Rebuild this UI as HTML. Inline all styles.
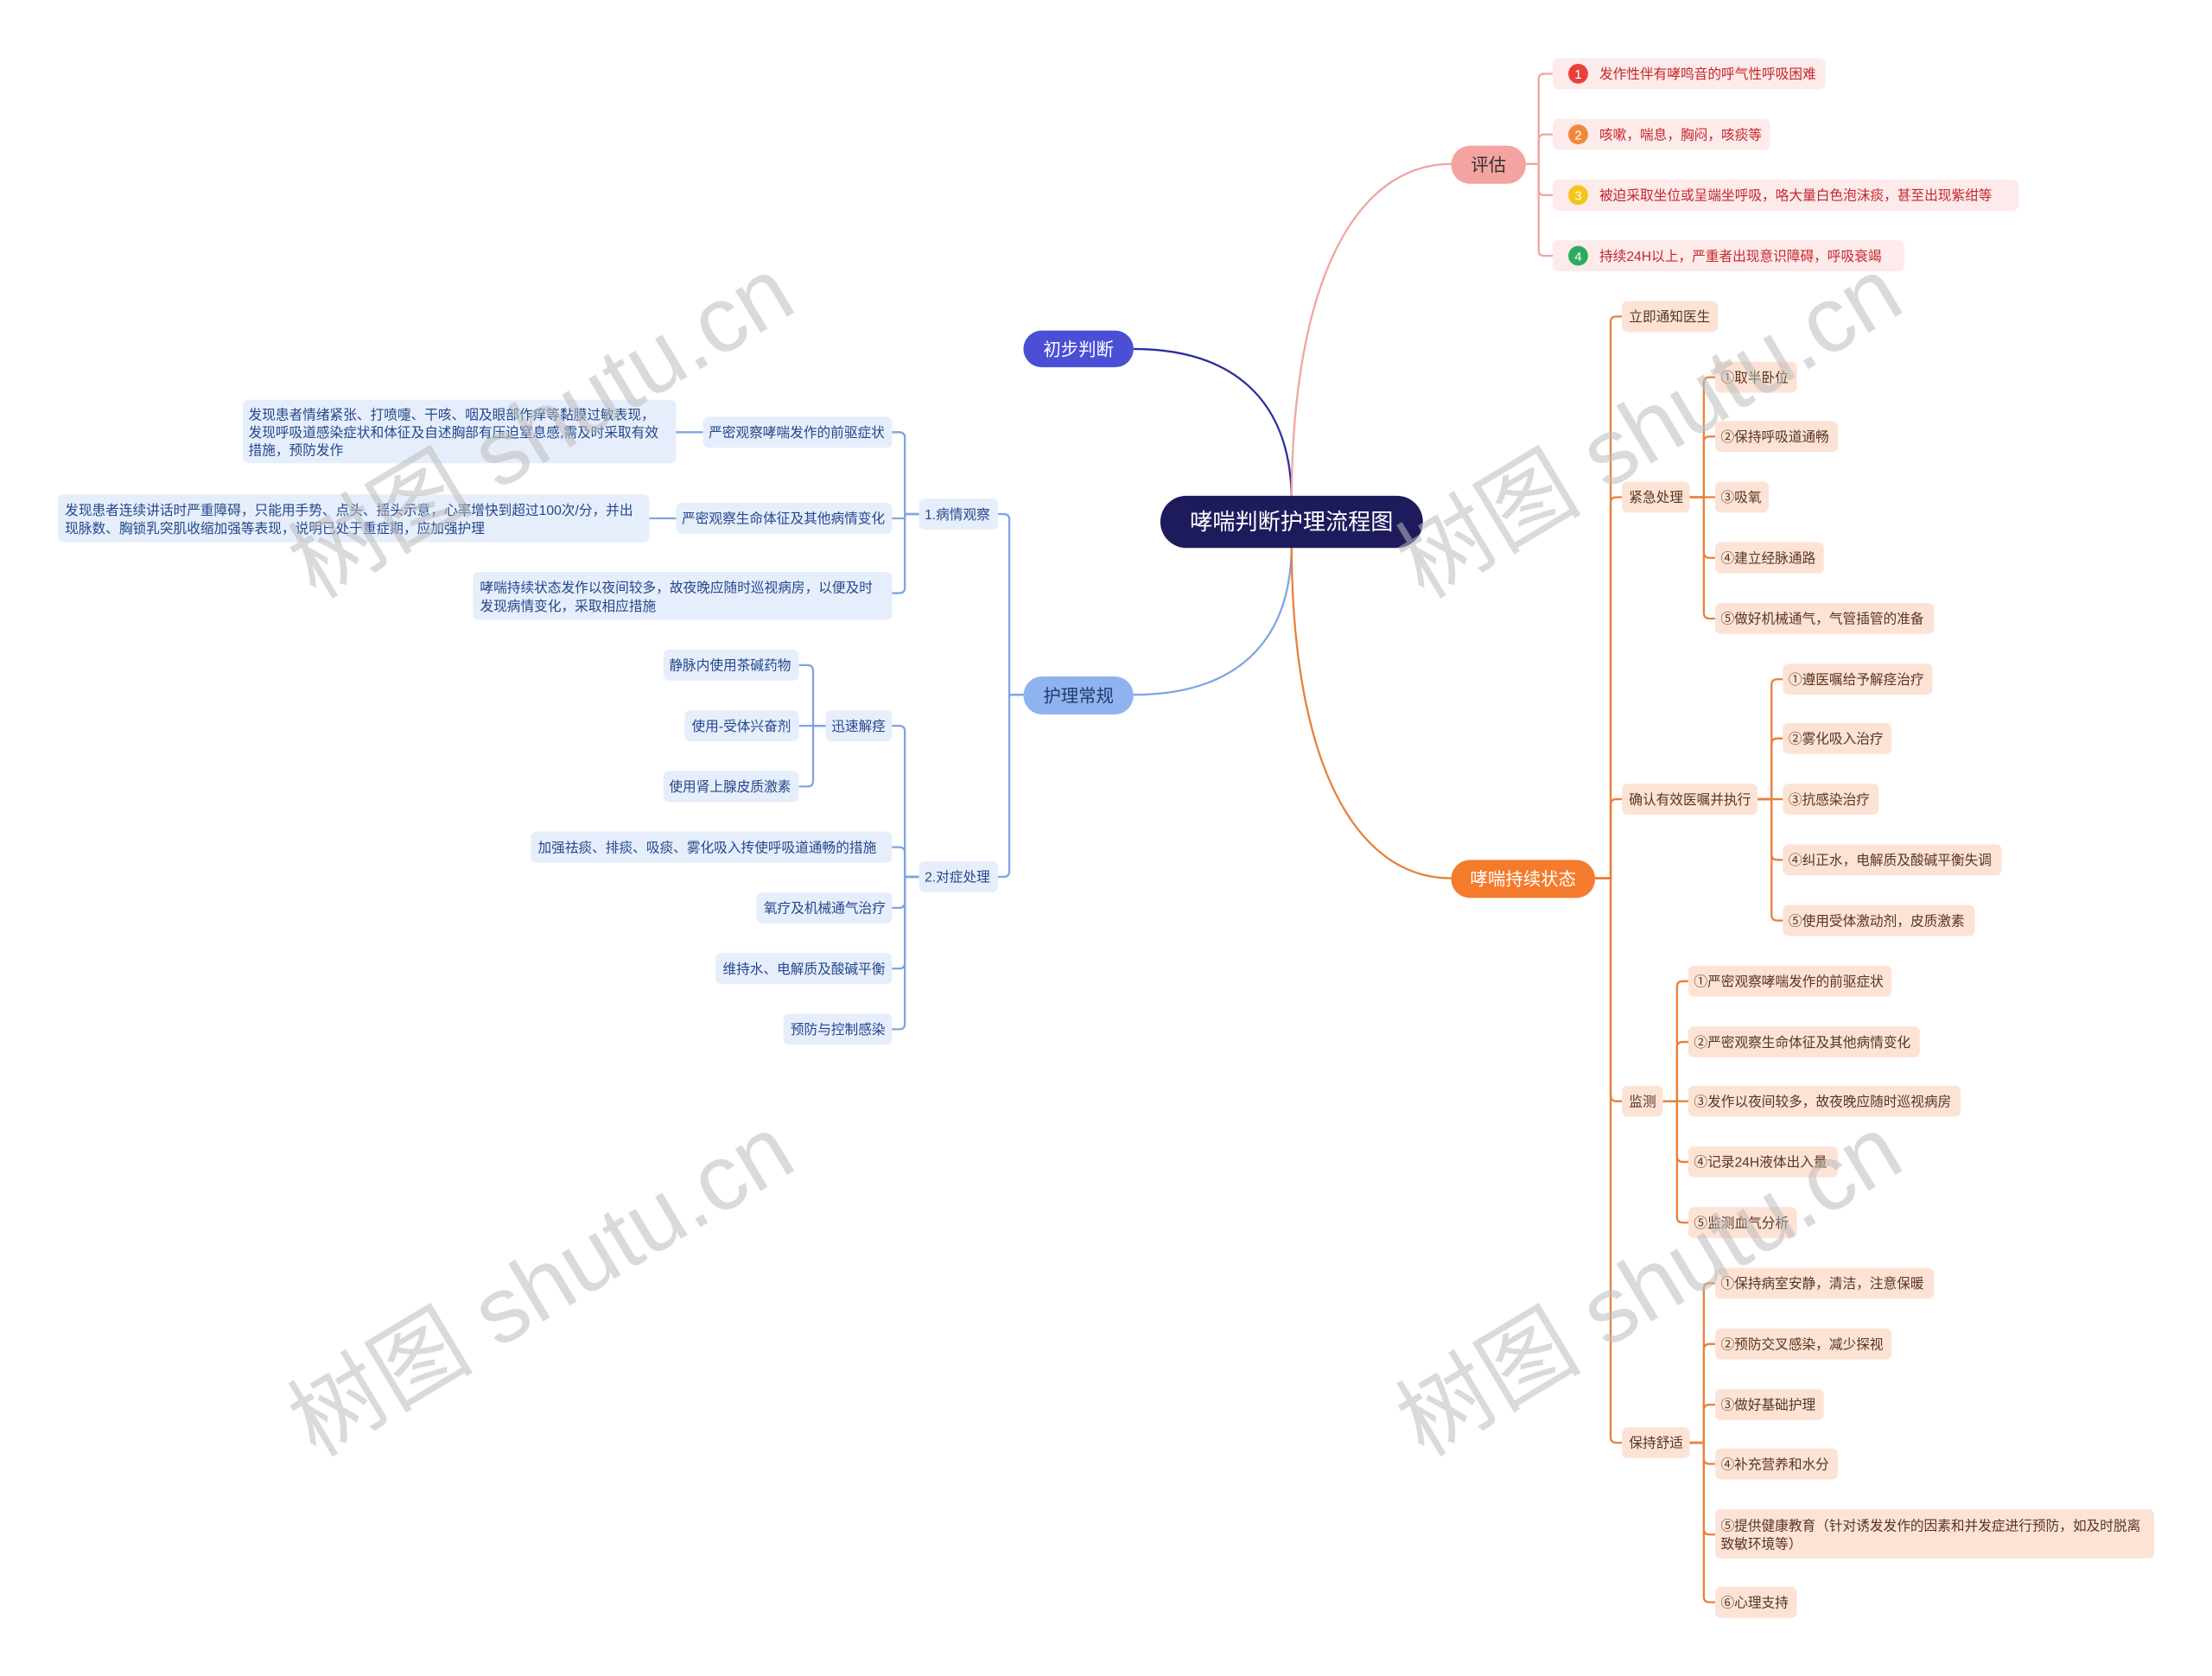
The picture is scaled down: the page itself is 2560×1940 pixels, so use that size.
<!DOCTYPE html>
<html><head><meta charset="utf-8"><style>
html,body{margin:0;padding:0;background:#fff;width:2560px;height:1940px;overflow:hidden}
svg{display:block}
text{font-family:"Liberation Sans","Noto Sans CJK SC",sans-serif}
.r text{fill:#c3272b;font-size:9.6px}
.o text{fill:#5a3420;font-size:9.6px}
.b text{fill:#24478a;font-size:9.6px}
</style></head><body>
<svg width="2560" height="1940" viewBox="0 0 1567 1187" xmlns="http://www.w3.org/2000/svg">
<g fill="none" stroke-width="1.4">
<path d="M915,355 C915,280 870,247 803,247" stroke="#2d2f9e"/>
<path d="M915,385 C915,460 870,492 803,492" stroke="#7fa5e0"/>
<path d="M915,355 C915,200 960,116 1028,116" stroke="#f0a5a0"/>
<path d="M915,385 C915,540 960,622 1028,622" stroke="#e8803a"/>
<g stroke="#f0a5a0">
<path d="M1081,116H1090V56Q1090,52 1094,52H1100"/><path d="M1081,116H1090V99Q1090,95 1094,95H1100"/>
<path d="M1081,116H1090V134Q1090,138 1094,138H1100"/><path d="M1081,116H1090V177Q1090,181 1094,181H1100"/>
</g>
<g stroke="#e8803a">
<path d="M1130,622H1141V228Q1141,224 1145,224H1149"/><path d="M1130,622H1141V356Q1141,352 1145,352H1149"/>
<path d="M1130,622H1141V570Q1141,566 1145,566H1149"/><path d="M1130,622H1141V776Q1141,780 1145,780H1149"/>
<path d="M1130,622H1141V1018Q1141,1022 1145,1022H1149"/>
<path d="M1197,352H1207V271Q1207,267 1211,267H1215"/><path d="M1197,352H1207V313Q1207,309 1211,309H1215"/>
<path d="M1197,352H1215"/><path d="M1197,352H1207V391Q1207,395 1211,395H1215"/><path d="M1197,352H1207V434Q1207,438 1211,438H1215"/>
<path d="M1245,566H1255V485Q1255,481 1259,481H1263"/><path d="M1245,566H1255V527Q1255,523 1259,523H1263"/>
<path d="M1245,566H1263"/><path d="M1245,566H1255V605Q1255,609 1259,609H1263"/><path d="M1245,566H1255V648Q1255,652 1259,652H1263"/>
<path d="M1178,780H1188V699Q1188,695 1192,695H1196"/><path d="M1178,780H1188V742Q1188,738 1192,738H1196"/>
<path d="M1178,780H1196"/><path d="M1178,780H1188V819Q1188,823 1192,823H1196"/><path d="M1178,780H1188V862Q1188,866 1192,866H1196"/>
<path d="M1197,1022H1207V913Q1207,909 1211,909H1215"/><path d="M1197,1022H1207V956Q1207,952 1211,952H1215"/>
<path d="M1197,1022H1207V999Q1207,995 1211,995H1215"/><path d="M1197,1022H1207V1033Q1207,1037 1211,1037H1215"/>
<path d="M1197,1022H1207V1083Q1207,1087 1211,1087H1215"/><path d="M1197,1022H1207V1131Q1207,1135 1211,1135H1215"/>
</g>
<g stroke="#7fa5e0">
<path d="M725,492H715V368Q715,364 711,364H707"/><path d="M725,492H715V617Q715,621 711,621H707"/>
<path d="M651,364H641V310Q641,306 637,306H632"/><path d="M651,364H641V367H632"/><path d="M651,364H641V416Q641,420 637,420H632"/>
<path d="M651,621H641V518Q641,514 637,514H632"/><path d="M651,621H641V604Q641,600 637,600H632"/>
<path d="M651,621H641V639Q641,643 637,643H632"/><path d="M651,621H641V682Q641,686 637,686H632"/><path d="M651,621H641V725Q641,729 637,729H632"/>
<path d="M585,514H576V475Q576,471 572,471H566"/><path d="M585,514H566"/><path d="M585,514H576V553Q576,557 572,557H566"/>
<path d="M498,306H479"/><path d="M479,367H460"/>
</g>
</g>
<rect x="822" y="351" width="186" height="37" rx="18.5" fill="#1e1b5c"/>
<text x="915" y="375" font-size="16" fill="#fff" text-anchor="middle">哮喘判断护理流程图</text>
<rect x="725" y="234" width="78" height="26" rx="13" fill="#4a4fd6"/>
<text x="764" y="251.5" font-size="12.5" fill="#fff" text-anchor="middle">初步判断</text>
<rect x="725" y="479" width="78" height="27" rx="13.5" fill="#8fb3ee"/>
<text x="764" y="497" font-size="12.5" fill="#1e3a6e" text-anchor="middle">护理常规</text>
<rect x="1028" y="103" width="53" height="27" rx="13.5" fill="#f5a3a0"/>
<text x="1054.5" y="121" font-size="12.5" fill="#333" text-anchor="middle">评估</text>
<rect x="1028" y="609" width="102" height="27" rx="13.5" fill="#f47b2c"/>
<text x="1079" y="627" font-size="12.5" fill="#fff" text-anchor="middle">哮喘持续状态</text>
<g class="r">
<rect x="1100" y="41" width="193" height="22" rx="4" fill="#fdeaea"/><circle cx="1118" cy="52" r="7" fill="#e8413c"/><text x="1118" y="55.5" text-anchor="middle" style="fill:#fff;font-size:9px">1</text><text x="1133" y="55.5">发作性伴有哮鸣音的呼气性呼吸困难</text>
<rect x="1100" y="84" width="154" height="22" rx="4" fill="#fdeaea"/><circle cx="1118" cy="95" r="7" fill="#f08a3a"/><text x="1118" y="98.5" text-anchor="middle" style="fill:#fff;font-size:9px">2</text><text x="1133" y="98.5">咳嗽，喘息，胸闷，咳痰等</text>
<rect x="1100" y="127" width="330" height="22" rx="4" fill="#fdeaea"/><circle cx="1118" cy="138" r="7" fill="#f5c518"/><text x="1118" y="141.5" text-anchor="middle" style="fill:#fff;font-size:9px">3</text><text x="1133" y="141.5">被迫采取坐位或呈端坐呼吸，咯大量白色泡沫痰，甚至出现紫绀等</text>
<rect x="1100" y="170" width="249" height="22" rx="4" fill="#fdeaea"/><circle cx="1118" cy="181" r="7" fill="#2faa5c"/><text x="1118" y="184.5" text-anchor="middle" style="fill:#fff;font-size:9px">4</text><text x="1133" y="184.5">持续24H以上，严重者出现意识障碍，呼吸衰竭</text>
</g>
<g class="o" fill="#fde3d5">
<rect x="1149" y="213" width="68" height="22" rx="4"/><text x="1154" y="227.5">立即通知医生</text>
<rect x="1149" y="341" width="48" height="22" rx="4"/><text x="1154" y="355.5">紧急处理</text>
<rect x="1149" y="555" width="96" height="22" rx="4"/><text x="1154" y="569.5">确认有效医嘱并执行</text>
<rect x="1149" y="769" width="29" height="22" rx="4"/><text x="1154" y="783.5">监测</text>
<rect x="1149" y="1011" width="48" height="22" rx="4"/><text x="1154" y="1025.5">保持舒适</text>
<rect x="1215" y="256" width="58" height="22" rx="4"/><text x="1219" y="270.5">①取半卧位</text>
<rect x="1215" y="298" width="87" height="22" rx="4"/><text x="1219" y="312.5">②保持呼吸道通畅</text>
<rect x="1215" y="341" width="38" height="22" rx="4"/><text x="1219" y="355.5">③吸氧</text>
<rect x="1215" y="384" width="77" height="22" rx="4"/><text x="1219" y="398.5">④建立经脉通路</text>
<rect x="1215" y="427" width="155" height="22" rx="4"/><text x="1219" y="441.5">⑤做好机械通气，气管插管的准备</text>
<rect x="1263" y="470" width="106" height="22" rx="4"/><text x="1267" y="484.5">①遵医嘱给予解痉治疗</text>
<rect x="1263" y="512" width="77" height="22" rx="4"/><text x="1267" y="526.5">②雾化吸入治疗</text>
<rect x="1263" y="555" width="68" height="22" rx="4"/><text x="1267" y="569.5">③抗感染治疗</text>
<rect x="1263" y="598" width="155" height="22" rx="4"/><text x="1267" y="612.5">④纠正水，电解质及酸碱平衡失调</text>
<rect x="1263" y="641" width="136" height="22" rx="4"/><text x="1267" y="655.5">⑤使用受体激动剂，皮质激素</text>
<rect x="1196" y="684" width="144" height="22" rx="4"/><text x="1200" y="698.5">①严密观察哮喘发作的前驱症状</text>
<rect x="1196" y="727" width="164" height="22" rx="4"/><text x="1200" y="741.5">②严密观察生命体征及其他病情变化</text>
<rect x="1196" y="769" width="193" height="22" rx="4"/><text x="1200" y="783.5">③发作以夜间较多，故夜晚应随时巡视病房</text>
<rect x="1196" y="812" width="106" height="22" rx="4"/><text x="1200" y="826.5">④记录24H液体出入量</text>
<rect x="1196" y="855" width="77" height="22" rx="4"/><text x="1200" y="869.5">⑤监测血气分析</text>
<rect x="1215" y="898" width="155" height="22" rx="4"/><text x="1219" y="912.5">①保持病室安静，清洁，注意保暖</text>
<rect x="1215" y="941" width="125" height="22" rx="4"/><text x="1219" y="955.5">②预防交叉感染，减少探视</text>
<rect x="1215" y="984" width="77" height="22" rx="4"/><text x="1219" y="998.5">③做好基础护理</text>
<rect x="1215" y="1026" width="87" height="22" rx="4"/><text x="1219" y="1040.5">④补充营养和水分</text>
<rect x="1215" y="1069" width="311" height="35" rx="4"/><text x="1219" y="1084">⑤提供健康教育（针对诱发发作的因素和并发症进行预防，如及时脱离</text><text x="1219" y="1097">致敏环境等）</text>
<rect x="1215" y="1124" width="58" height="22" rx="4"/><text x="1219" y="1138.5">⑥心理支持</text>
</g>
<g class="b" fill="#e6eefc">
<rect x="651" y="353" width="56" height="22" rx="4"/><text x="655" y="367.5">1.病情观察</text>
<rect x="651" y="610" width="56" height="22" rx="4"/><text x="655" y="624.5">2.对症处理</text>
<rect x="498" y="295" width="134" height="22" rx="4"/><text x="502" y="309.5">严密观察哮喘发作的前驱症状</text>
<rect x="479" y="356" width="153" height="22" rx="4"/><text x="483" y="370.5">严密观察生命体征及其他病情变化</text>
<rect x="335" y="405" width="297" height="34" rx="4"/><text x="340" y="419.5">哮喘持续状态发作以夜间较多，故夜晚应随时巡视病房，以便及时</text><text x="340" y="432.5">发现病情变化，采取相应措施</text>
<rect x="172" y="283" width="307" height="45" rx="4"/><text x="176" y="297">发现患者情绪紧张、打喷嚏、干咳、咽及眼部作痒等黏膜过敏表现，</text><text x="176" y="309.5">发现呼吸道感染症状和体征及自述胸部有压迫窒息感,需及时采取有效</text><text x="176" y="322">措施，预防发作</text>
<rect x="41" y="350" width="419" height="34" rx="4"/><text x="46" y="364.5">发现患者连续讲话时严重障碍，只能用手势、点头、摇头示意，心率增快到超过100次/分，并出</text><text x="46" y="377.5">现脉数、胸锁乳突肌收缩加强等表现，说明已处于重症期，应加强护理</text>
<rect x="585" y="503" width="47" height="22" rx="4"/><text x="589" y="517.5">迅速解痉</text>
<rect x="470" y="460" width="96" height="22" rx="4"/><text x="474" y="474.5">静脉内使用茶碱药物</text>
<rect x="485" y="503" width="81" height="22" rx="4"/><text x="490" y="517.5">使用-受体兴奋剂</text>
<rect x="470" y="546" width="96" height="22" rx="4"/><text x="474" y="560.5">使用肾上腺皮质激素</text>
<rect x="376" y="589" width="256" height="22" rx="4"/><text x="381" y="603.5">加强祛痰、排痰、吸痰、雾化吸入抟使呼吸道通畅的措施</text>
<rect x="536" y="632" width="96" height="22" rx="4"/><text x="541" y="646.5">氧疗及机械通气治疗</text>
<rect x="507" y="675" width="125" height="22" rx="4"/><text x="512" y="689.5">维持水、电解质及酸碱平衡</text>
<rect x="555" y="718" width="77" height="22" rx="4"/><text x="560" y="732.5">预防与控制感染</text>
</g>
<g font-size="66" fill="#bcbcbc" fill-opacity="0.55" text-anchor="middle">
<text transform="translate(395,322) rotate(-31)">树图 shutu.cn</text>
<text transform="translate(395,930) rotate(-31)">树图 shutu.cn</text>
<text transform="translate(1180,322) rotate(-31)">树图 shutu.cn</text>
<text transform="translate(1180,930) rotate(-31)">树图 shutu.cn</text>
</g>
</svg>
</body></html>
